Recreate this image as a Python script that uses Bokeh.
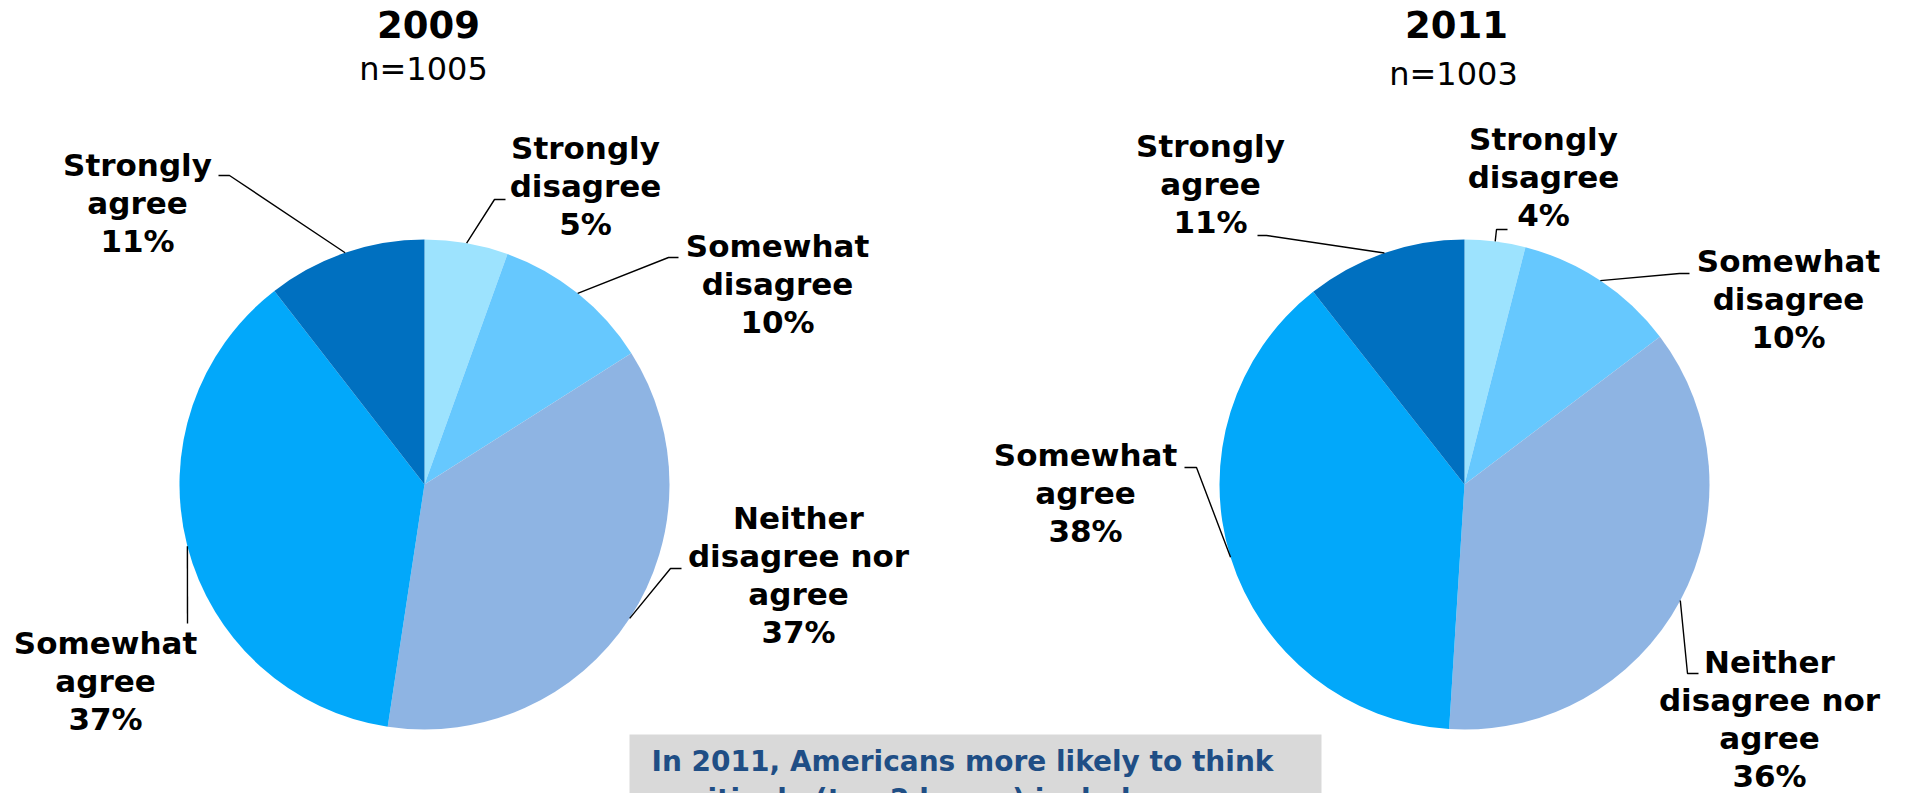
import math
from bokeh.plotting import figure
from bokeh.models import Range1d, ColumnDataSource
from bokeh.core.properties import value
from bokeh.embed import file_html
from bokeh.resources import INLINE

# ---------------- data ----------------
categories = ["Strongly disagree", "Somewhat disagree", "Neither disagree nor agree",
              "Somewhat agree", "Strongly agree"]
label_lines = [["Strongly", "disagree"], ["Somewhat", "disagree"],
               ["Neither", "disagree nor", "agree"], ["Somewhat", "agree"],
               ["Strongly", "agree"]]
colors = ["#9de3fe", "#66c8fe", "#8eb4e3", "#02a8fa", "#0070c0"]
years = ["2009", "2011"]
sample_sizes = ["n=1005", "n=1003"]
values_2009 = [5.5, 10.5, 36.4, 37.1, 10.5]
values_2011 = [4.0, 10.7, 36.3, 38.4, 10.6]
pct_2009 = [5, 10, 37, 37, 11]
pct_2011 = [4, 10, 36, 38, 11]
note_lines = ["In 2011, Americans more likely to think",
              "positively (top 2 boxes) include:"]

# ---------------- layout (page pixels) ----------------
W, H = 1905, 793
OFF = 0
BASE_FIX = 0.37   # baseline correction, in em
def X(px):
    return px - OFF
def Y(py):
    return H + OFF - py
def YT(py, size):
    # text baseline position, corrected for renderer baseline offset
    return Y(py - BASE_FIX * size)

FONT = value("DejaVu Sans")
LABEL_PX = 31
TITLE_PX = 37
N_PX = 32
NOTE_PX = 28
LINE_STEP = 38

pie_layout = [
    dict(cx=424, cy=484, r=245, title_x=428, n_x=423, n_base=80,
         labels=[(585, 159, (494, 199), (505, 199)),
                 (777, 257, (668, 257), (678, 257)),
                 (798, 529, (670, 568), (681, 568)),
                 (105, 654, (187, 623), (187, 623)),
                 (137, 176, (229, 175), (218, 175))]),
    dict(cx=1464, cy=484, r=245, title_x=1456, n_x=1453, n_base=85,
         labels=[(1543, 150, (1496, 229), (1507, 229)),
                 (1788, 272, (1679, 273), (1689, 273)),
                 (1769, 673, (1687, 673), (1698, 673)),
                 (1085, 466, (1196, 467), (1184, 467)),
                 (1210, 157, (1266, 235), (1257, 235))]),
]

p = figure(width=W, height=H, output_backend="svg", toolbar_location=None,
           x_range=Range1d(0, W), y_range=Range1d(0, H), min_border=0)
p.axis.visible = False
p.xgrid.visible = False
p.ygrid.visible = False
p.outline_line_color = None
p.background_fill_color = "white"
p.border_fill_color = "white"

all_values = [values_2009, values_2011]
all_pcts = [pct_2009, pct_2011]

for k, lay in enumerate(pie_layout):
    vals = all_values[k]
    total = float(sum(vals))
    cum = 0.0
    starts, ends, mids = [], [], []
    for v in vals:
        a0 = cum / total
        cum += v
        a1 = cum / total
        starts.append(math.pi / 2 - 2 * math.pi * a1)
        ends.append(math.pi / 2 - 2 * math.pi * a0)
        mids.append((a0 + a1) / 2)
    src = ColumnDataSource(dict(x=[X(lay["cx"])] * len(vals), y=[Y(lay["cy"])] * len(vals),
                                start=starts, end=ends, color=colors, cat=categories))
    p.wedge(x="x", y="y", radius=lay["r"], start_angle="start", end_angle="end",
            fill_color="color", line_color=None, source=src)

    # title
    p.text(x=[X(lay["title_x"])], y=[YT(38, TITLE_PX)], text=[years[k]], text_font=FONT,
           text_font_style="bold", text_font_size="%dpx" % TITLE_PX, text_align="center",
           text_baseline="alphabetic", text_color="black")
    p.text(x=[X(lay["n_x"])], y=[YT(lay["n_base"], N_PX)], text=[sample_sizes[k]],
           text_font=FONT, text_font_size="%dpx" % N_PX, text_align="center",
           text_baseline="alphabetic", text_color="black")

    tx, ty, tt = [], [], []
    lxs, lys = [], []
    for i, (lx, lb, elbow, end) in enumerate(lay["labels"]):
        lines = label_lines[i] + ["%d%%" % all_pcts[k][i]]
        for j, line in enumerate(lines):
            tx.append(X(lx))
            ty.append(YT(lb + j * LINE_STEP, LABEL_PX))
            tt.append(line)
        ang = 2 * math.pi * mids[i]
        sx = lay["cx"] + lay["r"] * math.sin(ang)
        sy = lay["cy"] - lay["r"] * math.cos(ang)
        lxs.append([X(sx), X(elbow[0]), X(end[0])])
        lys.append([Y(sy), Y(elbow[1]), Y(end[1])])
    p.multi_line(xs=lxs, ys=lys, line_color="black", line_width=1.4)
    p.text(x=tx, y=ty, text=tt, text_font=FONT, text_font_style="bold",
           text_font_size="%dpx" % LABEL_PX, text_align="center", text_baseline="alphabetic",
           text_color="black")

# note box
p.quad(left=[X(629)], right=[X(1321)], top=[Y(734)], bottom=[Y(900)],
       fill_color="#d9d9d9", line_color=None)
p.text(x=[X(651)] * len(note_lines),
       y=[YT(771 + j * 38, NOTE_PX) for j in range(len(note_lines))],
       text=note_lines, text_font=FONT, text_font_style="bold",
       text_font_size="%dpx" % NOTE_PX,
       text_align="left", text_baseline="alphabetic", text_color="#1f4e85")

open("out.html", "w").write(file_html(p, INLINE))
